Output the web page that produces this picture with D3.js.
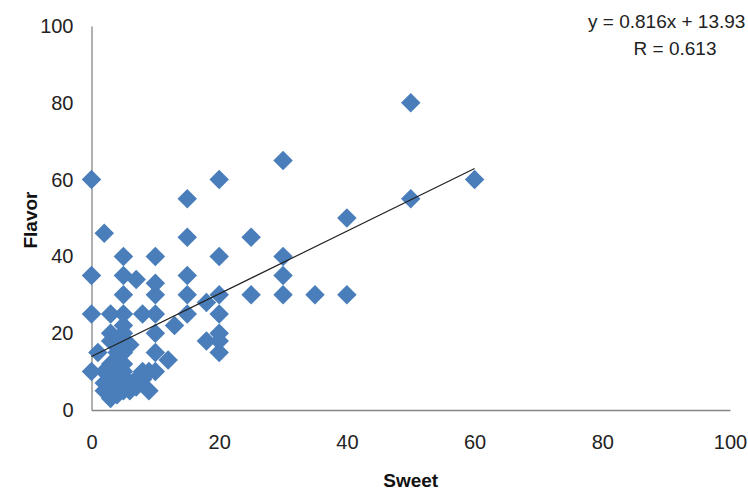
<!DOCTYPE html>
<html lang="en">
<head>
    <title>Sweet vs Flavor</title>
    <script src="https://d3js.org/d3.v7.min.js"></script>
    <style>
        body {
            margin: 0;
            background: white;
        }
        * {
            font-family: "Liberation Sans", Arial, sans-serif;
        }
        .tick-label {
            fill: #222;
        }
        .axis-title {
            font-size: 19px;
            font-weight: bold;
            fill: #111;
        }
        .eq {
            font-size: 19px;
            fill: #222;
        }
    </style>
</head>
<body>
<svg class="scatter"></svg>
<script>
// sweet / flavor pairs
const sweet = [
  0, 0, 0, 0,
  1,
  2, 2, 2, 2,
  3, 3, 3, 3, 3, 3, 3,
  4, 4, 4, 4, 4,
  5, 5, 5, 5, 5, 5, 5, 5, 5, 5, 5, 5,
  6, 6, 6,
  7, 7, 7,
  8, 8, 8,
  9, 9,
  10, 10, 10, 10, 10, 10, 10,
  12, 13,
  15, 15, 15, 15, 15,
  18, 18,
  20, 20, 20, 20, 20, 20, 20,
  25, 25,
  30, 30, 30, 30,
  35,
  40, 40,
  50, 50,
  60
];
const flavor = [
  60, 35, 25, 10,
  15,
  46, 10, 5, 7,
  25, 20, 18, 12, 5, 3, 8,
  17, 15, 10, 6, 4,
  40, 35, 30, 25, 22, 20, 17, 15, 12, 10, 8, 5,
  17, 7, 5,
  34, 8, 6,
  25, 10, 8,
  10, 5,
  40, 33, 30, 25, 20, 15, 10,
  13, 22,
  55, 45, 35, 30, 25,
  28, 18,
  60, 40, 30, 25, 20, 18, 15,
  45, 30,
  65, 40, 35, 30,
  30,
  50, 30,
  80, 55,
  60
];
const xTicks = [0, 20, 40, 60, 80, 100];
const yTicks = [0, 20, 40, 60, 80, 100];

// trendline as printed on the chart
const slope = 0.816;
const intercept = 13.93;
const rValue = 0.613;

let w = 748;
let h = 497;
let margin = {top: 26, right: 18, bottom: 87, left: 91.5},
    width = w - margin.left - margin.right,
    height = h - margin.top - margin.bottom;

let svg = d3.select("svg.scatter")
    .attr("width", w)
    .attr("height", h)
    .append("g")
    .attr("transform", "translate(" + margin.left + "," + margin.top + ")");

let x = d3.scaleLinear().domain([0, 100]).range([0, width]);
let y = d3.scaleLinear().domain([0, 100]).range([height, 0]);

// axes, no tick marks, only the lines and labels
let xAxis = svg.append("g")
    .attr("transform", "translate(0," + height + ")")
    .call(d3.axisBottom(x).tickValues(xTicks).tickSize(0).tickPadding(25));
let yAxis = svg.append("g")
    .call(d3.axisLeft(y).tickValues(yTicks).tickSize(0).tickPadding(18));

[xAxis, yAxis].forEach(a => {
  a.select(".domain").attr("stroke", "#868686").attr("stroke-width", 1.3);
  a.selectAll("text")
    .attr("class", "tick-label")
    .style("font-family", "'Liberation Sans', Arial, sans-serif")
    .style("font-size", "20px");
});
xAxis.selectAll("text").attr("dy", "0.71em");

let points = sweet.map((s, i) => ({sweet: s, flavor: flavor[i]}));

// diamond markers (square turned 45deg)
let diamond = d3.symbol().type(d3.symbolSquare).size(190);
svg.append("g")
    .selectAll("path")
    .data(points)
    .enter()
    .append("path")
    .attr("d", diamond)
    .attr("transform", d => "translate(" + x(d.sweet) + "," + y(d.flavor) + ") rotate(45)")
    .style("fill", "#4a7ebb");

// trend line over the range of the data
let xExtent = d3.extent(sweet);
svg.append("line")
    .attr("x1", x(xExtent[0]))
    .attr("y1", y(slope * xExtent[0] + intercept))
    .attr("x2", x(xExtent[1]))
    .attr("y2", y(slope * xExtent[1] + intercept))
    .attr("stroke", "#222")
    .attr("stroke-width", 1.2);

// axis titles
svg.append("text")
    .attr("class", "axis-title")
    .attr("x", width / 2)
    .attr("y", height + 77)
    .attr("text-anchor", "middle")
    .text("Sweet");

svg.append("text")
    .attr("class", "axis-title")
    .attr("transform", "translate(" + (-55) + "," + (height / 2 + 2) + ") rotate(-90)")
    .attr("text-anchor", "middle")
    .text("Flavor");

// equation box
let eq = d3.select("svg.scatter").append("g");
eq.append("text")
    .attr("class", "eq")
    .attr("x", 588)
    .attr("y", 28)
    .text("y = " + slope + "x + " + intercept);
eq.append("text")
    .attr("class", "eq")
    .attr("x", 675)
    .attr("y", 55)
    .attr("text-anchor", "middle")
    .text("R = " + rValue);
</script>
</body>
</html>
